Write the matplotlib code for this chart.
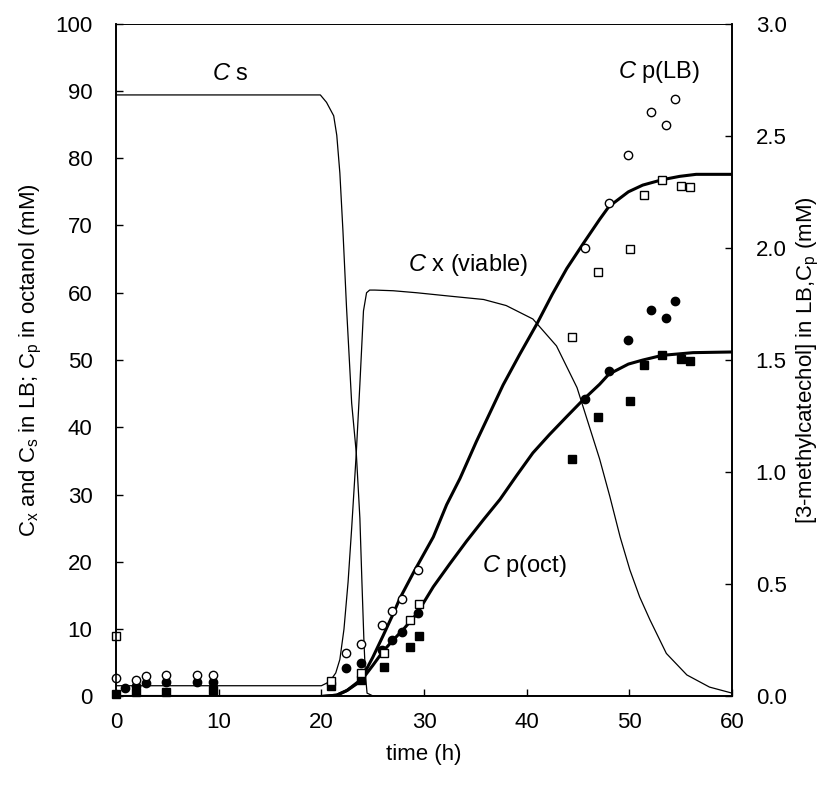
import matplotlib
matplotlib.use("Agg")
import matplotlib.pyplot as plt
from matplotlib.ticker import FormatStrFormatter

plt.rcParams['font.family'] = ['Liberation Sans', 'DejaVu Sans']
plt.rcParams['mathtext.fontset'] = 'custom'
plt.rcParams['mathtext.rm'] = 'Liberation Sans'
plt.rcParams['mathtext.it'] = 'Liberation Sans:italic'

# model curves (left axis, mM)
t_cs = [0, 19.9, 20.5, 21.2, 21.5, 21.8, 22.1, 22.45, 22.95, 23.4, 23.75, 23.95, 24.15, 24.3, 24.45, 25, 60]
cs = [89.4, 89.4, 88.3, 86.3, 83.4, 77.8, 69.2, 57.8, 43.6, 36.2, 26.5, 17, 8, 3, 0.5, 0.1, 0.0]

t_cx = [0, 20.0, 20.8, 21.4, 21.8, 22.2, 22.6, 22.95, 23.4, 23.75, 24.1, 24.4, 24.7, 25.2, 27.0,
        29.3, 32.5, 35.8, 38.0, 40.6, 42.9, 44.9, 47.1, 48.1, 49.1, 50.05, 51.0, 52.0, 53.6,
        55.6, 57.8, 60]
cx = [1.6, 1.6, 2.2, 3.5, 5.5, 10, 17, 25, 36.2, 46.4, 57.3, 60.0, 60.4, 60.4, 60.3,
      60.0, 59.5, 59.0, 58.1, 56.1, 52.1, 45.9, 35.3, 29.7, 23.7, 18.8, 14.8, 11.4, 6.4,
      3.2, 1.4, 0.5]

t_oct = [0, 20, 21.5, 22.5, 23.85, 25, 26, 27, 28, 29.3, 30.9, 32.5, 34.15, 35.8, 37.4, 39,
         40.6, 42.2, 43.9, 45.5, 47.1, 48, 49.9, 51.3, 53.2, 56.2, 60]
cp_oct = [0, 0, 0.2, 0.9, 2.3, 4.6, 6.7, 8.4, 10.0, 12.3, 16.3, 19.7, 23.1, 26.3, 29.3, 32.8,
          36.2, 38.9, 41.6, 44.1, 46.4, 47.9, 49.4, 50.0, 50.7, 51.1, 51.2]

# model curve Cp(LB) (right axis, mM)
t_lb = [0, 20, 21.5, 22.5, 23.85, 25, 26, 27, 27.65, 29, 30.9, 32.2, 33.5, 35.1, 37.7, 39.3,
        41, 42.5, 43.9, 45.5, 47.1, 48, 49.9, 51.3, 53.2, 54.9, 56.5, 60]
cp_lb = [0, 0, 0.006, 0.027, 0.075, 0.174, 0.27, 0.369, 0.438, 0.555, 0.711, 0.855, 0.972,
         1.137, 1.389, 1.524, 1.662, 1.794, 1.908, 2.019, 2.127, 2.184, 2.25, 2.28, 2.304,
         2.319, 2.328, 2.328]

# measured data
t_circ = [0, 0.9, 1.9, 2.9, 4.9, 7.85, 9.4, 22.4, 23.85, 25.95, 26.85, 27.9, 29.4,
          45.7, 48.0, 49.9, 52.15, 53.6, 54.4]
lb_circ = [0.081, None, 0.074, 0.09, 0.096, 0.096, 0.096, 0.192, 0.234, 0.318, 0.381, 0.435,
           0.564, 2.001, 2.202, 2.412, 2.604, 2.547, 2.664]
oct_circ = [None, 1.2, 1.6, 2.0, 2.1, 2.1, 2.2, 4.2, 5.0, 6.9, 8.4, 9.6, 12.4,
            44.2, 48.4, 53.0, 57.4, 56.3, 58.8]

t_sq = [0, 1.9, 4.9, 9.4, 20.9, 23.85, 26.1, 28.6, 29.55, 44.4, 46.95, 50.05, 51.45,
        53.2, 55.0, 55.9]
lb_sq = [0.27, None, None, None, 0.069, 0.105, 0.195, 0.342, 0.413, 1.605, 1.893, 1.995,
         2.235, 2.301, 2.277, 2.271]
oct_sq = [0.4, 0.7, 0.6, 1.0, 1.5, 2.5, 4.4, 7.4, 9.0, 35.3, 41.6, 43.9, 49.2, 50.7,
          50.1, 49.85]


def pairs(t, v):
    keep = [(a, b) for a, b in zip(t, v) if b is not None]
    return [a for a, b in keep], [b for a, b in keep]


def main():
    fig = plt.figure(figsize=(8.3, 7.87), dpi=100)
    ax = fig.add_axes([0.1398, 0.115, 0.7422, 0.855])
    ax2 = ax.twinx()

    ax.plot(t_cs, cs, color='black', lw=0.9)
    ax.plot(t_cx, cx, color='black', lw=0.9)
    ax.plot(t_oct, cp_oct, color='black', lw=2.2)
    x, y = pairs(t_circ, oct_circ)
    ax.plot(x, y, 'o', color='black', ms=6, ls='none', clip_on=False)
    x, y = pairs(t_sq, oct_sq)
    ax.plot(x, y, 's', color='black', ms=5.5, ls='none', clip_on=False)

    ax2.plot(t_lb, cp_lb, color='black', lw=2.2)
    x, y = pairs(t_circ, lb_circ)
    ax2.plot(x, y, 'o', mfc='white', mec='black', mew=1.0, ms=6, ls='none', clip_on=False)
    x, y = pairs(t_sq, lb_sq)
    ax2.plot(x, y, 's', mfc='white', mec='black', mew=1.0, ms=5.5, ls='none', clip_on=False)

    ax.set_xlim(0, 60)
    ax.set_ylim(0, 100)
    ax2.set_ylim(0, 3.0)
    ax.set_xticks(range(0, 61, 10))
    ax.set_yticks(range(0, 101, 10))
    ax2.set_yticks([0, 0.5, 1.0, 1.5, 2.0, 2.5, 3.0])
    ax2.yaxis.set_major_formatter(FormatStrFormatter('%.1f'))

    for a in (ax, ax2):
        a.tick_params(direction='in', length=5, width=1, labelsize=16)
        for s in a.spines.values():
            s.set_linewidth(1.2)
    ax.tick_params(axis='y', pad=17)
    ax2.tick_params(axis='y', pad=17)
    ax.tick_params(axis='x', pad=11)
    ax.spines['top'].set_linewidth(0.6)
    ax2.spines['top'].set_linewidth(0.6)

    ax.set_xlabel('time (h)', fontsize=16, labelpad=8)
    ax.set_ylabel(r'C$_\mathrm{x}$ and C$_\mathrm{s}$ in LB; C$_\mathrm{p}$ in octanol (mM)',
                  fontsize=16, labelpad=8)
    ax2.set_ylabel(r'[3-methylcatechol] in LB,C$_\mathrm{p}$ (mM)', fontsize=16,
                   labelpad=6)

    ax.text(9.35, 92.5, r'$C$ s', fontsize=17, ha='left', va='center')
    ax.text(28.4, 64.1, r'$C$ x (viable)', fontsize=17, ha='left', va='center')
    ax.text(35.6, 19.4, r'$C$ p(oct)', fontsize=17, ha='left', va='center')
    ax.text(48.9, 92.8, r'$C$ p(LB)', fontsize=17, ha='left', va='center')

    fig.savefig('out.png', dpi=100)
    plt.close(fig)


if __name__ == '__main__':
    main()
